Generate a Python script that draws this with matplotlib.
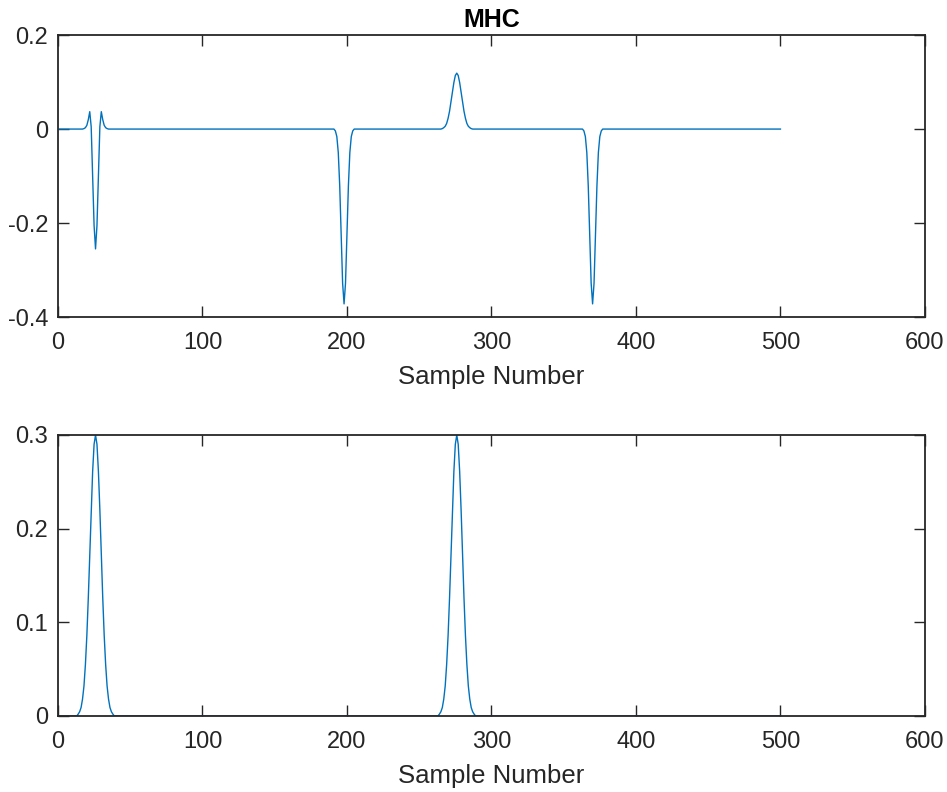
# MHC response and detected pulse train, two stacked panels

import numpy as np
import matplotlib.pyplot as plt

plt.rcParams['font.family'] = ['Liberation Sans', 'DejaVu Sans']

# sample axis
n_samples = 500
sample = np.arange(1, n_samples + 1)

# MHC response: baseline is zero, events listed by centre sample and shape
mhc_events = [26, 198, 276, 370]
mhc_shapes = [
    # mexican-hat style dip with side lobes (offsets -8..8)
    [0.001, 0.003, 0.008, 0.020, 0.037, 0.005, -0.100, -0.205, -0.255,
     -0.205, -0.100, 0.005, 0.037, 0.020, 0.008, 0.003, 0.001],
    # sharp negative spike (offsets -6..6)
    [-0.004, -0.016, -0.050, -0.121, -0.226, -0.328, -0.372,
     -0.328, -0.226, -0.121, -0.050, -0.016, -0.004],
    # small positive bump (offsets -10..10)
    [0.001, 0.003, 0.006, 0.012, 0.023, 0.038, 0.058, 0.079, 0.099, 0.114, 0.119,
     0.114, 0.099, 0.079, 0.058, 0.038, 0.023, 0.012, 0.006, 0.003, 0.001],
    # sharp negative spike (offsets -6..6)
    [-0.004, -0.016, -0.050, -0.121, -0.226, -0.328, -0.372,
     -0.328, -0.226, -0.121, -0.050, -0.016, -0.004],
]

# detected pulses in the lower panel
pulse_events = [26, 276]
pulse_shape = [0.002, 0.0045, 0.009, 0.018, 0.032, 0.055, 0.086, 0.126, 0.172,
               0.220, 0.261, 0.290, 0.300, 0.290, 0.261, 0.220, 0.172, 0.126,
               0.086, 0.055, 0.032, 0.018, 0.009, 0.0045, 0.002]


def build_signal(events, shapes):
    sig = np.zeros(n_samples)
    for centre, shape in zip(events, shapes):
        half = len(shape) // 2
        start = centre - half - 1
        sig[start:start + len(shape)] = shape
    return sig


mhc = build_signal(mhc_events, mhc_shapes)
pulses = build_signal(pulse_events, [pulse_shape] * len(pulse_events))

line_color = '#0072BD'
axis_color = '#262626'

fig = plt.figure(figsize=(9.47, 7.92), dpi=100)
ax1 = fig.add_axes([0.0612, 0.5997, 0.9155, 0.356])
ax2 = fig.add_axes([0.0612, 0.096, 0.9155, 0.3548])


def style_axes(ax):
    for s in ax.spines.values():
        s.set_color(axis_color)
        s.set_linewidth(1.3)
    ax.tick_params(direction='in', top=True, right=True, length=8, width=1.0,
                   colors=axis_color, labelsize=17)
    ax.tick_params(axis='x', pad=11)
    ax.tick_params(axis='y', pad=7)
    ax.set_xlim(0, 600)
    ax.set_xticks([0, 100, 200, 300, 400, 500, 600])
    ax.set_xlabel('Sample Number', fontsize=18.5, color=axis_color, labelpad=8)


ax1.plot(sample, mhc, color=line_color, linewidth=1.0)
ax1.set_ylim(-0.4, 0.2)
ax1.set_yticks([-0.4, -0.2, 0, 0.2])
ax1.set_yticklabels(['-0.4', '-0.2', '0', '0.2'])
ax1.set_title('MHC', fontsize=18, fontweight='bold', pad=6)
style_axes(ax1)

ax2.plot(sample, pulses, color=line_color, linewidth=1.0)
ax2.set_ylim(0, 0.3)
ax2.set_yticks([0, 0.1, 0.2, 0.3])
ax2.set_yticklabels(['0', '0.1', '0.2', '0.3'])
style_axes(ax2)

fig.savefig('out.png', dpi=100)
